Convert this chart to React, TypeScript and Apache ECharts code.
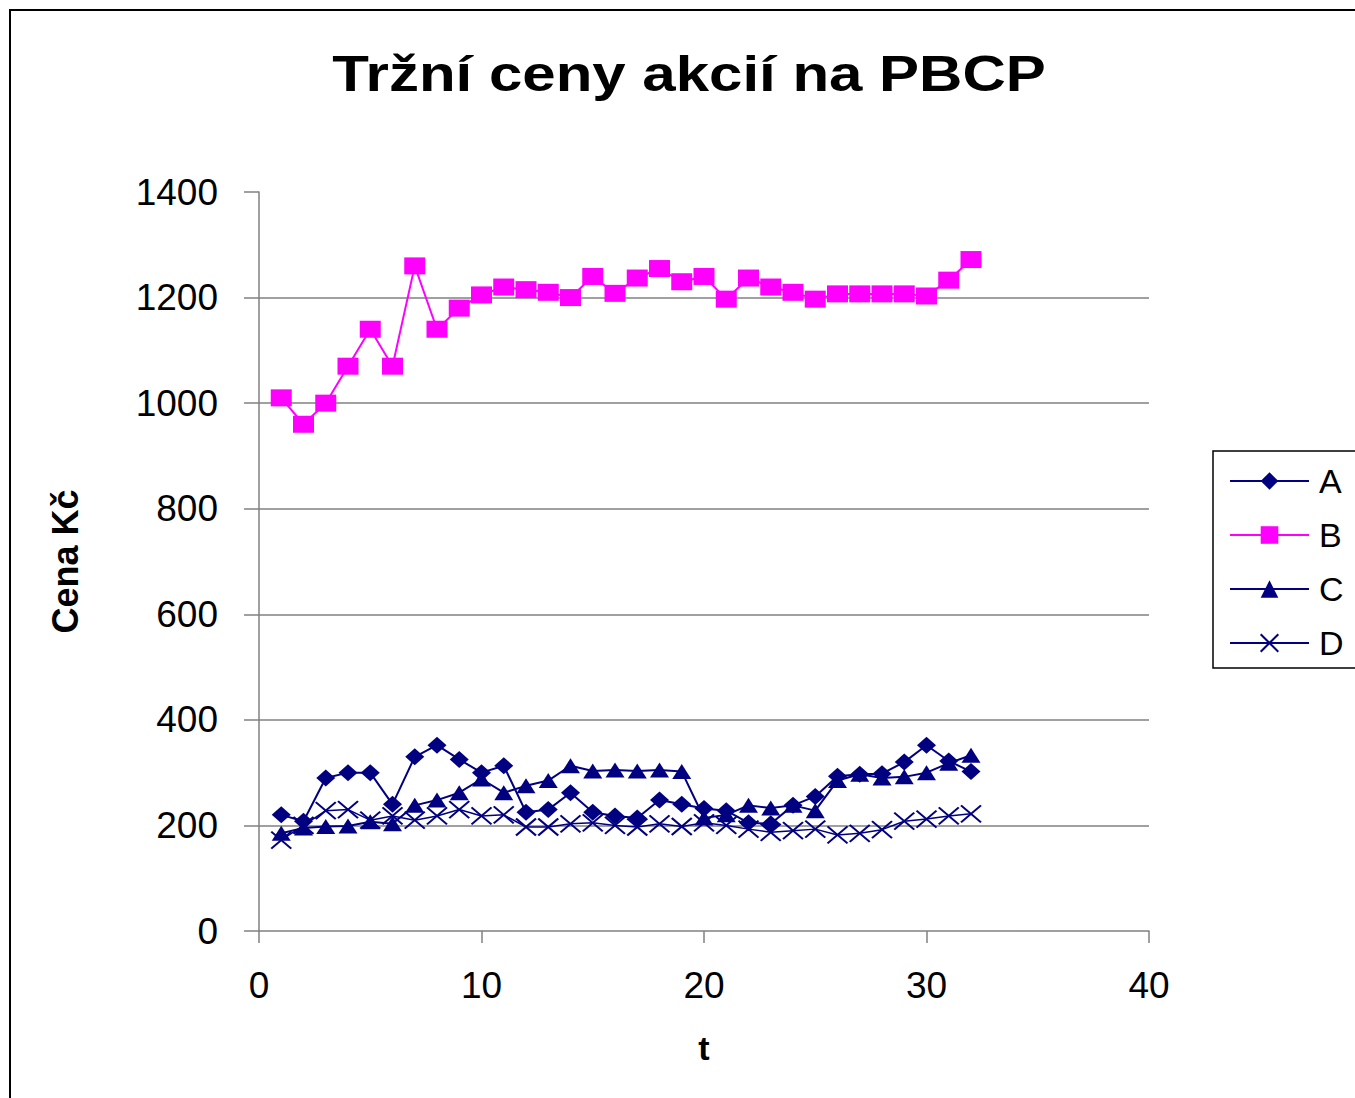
import React, { useEffect, useRef } from "react";
import * as echarts from "echarts";

const TITLE = "Tržní ceny akcií na PBCP";
const Y_NAME = "Cena Kč";
const X_NAME = "t";
const SERIES_NAMES = ["A", "B", "C", "D"];

const T = [1, 2, 3, 4, 5, 6, 7, 8, 9, 10, 11, 12, 13, 14, 15, 16, 17, 18, 19, 20, 21, 22, 23, 24, 25, 26, 27, 28, 29, 30, 31, 32];
const A = [220, 208, 290, 300, 300, 240, 330, 352, 325, 300, 313, 225, 230, 262, 225, 218, 214, 248, 240, 232, 228, 205, 203, 238, 255, 293, 297, 298, 320, 352, 322, 302];
const B = [1010, 960, 1000, 1070, 1140, 1070, 1260, 1140, 1180, 1205, 1220, 1215, 1210, 1200, 1240, 1208, 1237, 1255, 1230, 1240, 1197, 1237, 1220, 1210, 1197, 1207, 1207, 1207, 1207, 1203, 1233, 1272];
const C = [185, 195, 198, 199, 207, 203, 238, 248, 262, 288, 262, 275, 285, 313, 303, 305, 303, 305, 302, 214, 220, 238, 233, 238, 228, 285, 297, 290, 292, 300, 318, 333];
const D = [172, 200, 228, 230, 210, 218, 210, 218, 230, 218, 220, 197, 197, 203, 205, 200, 197, 203, 198, 205, 200, 193, 187, 190, 193, 182, 185, 192, 208, 212, 218, 222];

const NAVY = "#000080";
const MAGENTA = "#FF00FF";
const FONT = "Liberation Sans, Arial, sans-serif";

const pairs = (ys: number[]) => T.map((t, i) => [t, ys[i]]);

export default function App() {
  const ref = useRef<HTMLDivElement>(null);
  useEffect(() => {
    if (!ref.current) return;
    const chart = echarts.init(ref.current, undefined, { renderer: "svg" });
    const axisLineStyle = { color: "#808080", width: 1.5 };
    chart.setOption({
      animation: false,
      backgroundColor: "#ffffff",
      graphic: [
        {
          type: "rect",
          shape: { x: 10, y: 10, width: 1400, height: 1200 },
          style: { fill: "none", stroke: "#000", lineWidth: 2 },
          silent: true,
          z: 0,
        },
        {
          type: "text",
          x: 689,
          y: 74,
          scaleX: 1.2,
          style: {
            text: TITLE,
            font: `bold 50px ${FONT}`,
            fill: "#000",
            textAlign: "center",
            textVerticalAlign: "middle",
          },
        },
      ],
      grid: { left: 259, top: 192, right: 206, bottom: 167, containLabel: false },
      legend: {
        orient: "vertical",
        left: 1213,
        top: 451,
        data: SERIES_NAMES,
        backgroundColor: "#fff",
        borderColor: "#000",
        borderWidth: 1.5,
        borderRadius: 0,
        padding: [13, 60, 8, 16],
        itemWidth: 79,
        itemHeight: 22,
        itemGap: 20,
        textStyle: {
          fontFamily: FONT,
          fontSize: 34,
          lineHeight: 31,
          color: "#000",
          padding: [0, 0, 0, 5],
        },
      },
      xAxis: {
        type: "value",
        min: 0,
        max: 40,
        interval: 10,
        name: X_NAME,
        nameLocation: "middle",
        nameGap: 100,
        nameTextStyle: { fontFamily: FONT, fontSize: 34, fontWeight: "bold", color: "#000" },
        axisLine: { show: true, lineStyle: axisLineStyle },
        axisTick: { show: true, length: 12, lineStyle: axisLineStyle },
        axisLabel: { fontFamily: FONT, fontSize: 37, color: "#000", margin: 36, formatter: (v: number) => String(v) },
        splitLine: { show: false },
      },
      yAxis: {
        type: "value",
        min: 0,
        max: 1400,
        interval: 200,
        name: Y_NAME,
        nameLocation: "middle",
        nameGap: 176,
        nameTextStyle: { fontFamily: FONT, fontSize: 36, fontWeight: "bold", color: "#000" },
        axisLine: { show: true, lineStyle: axisLineStyle },
        axisTick: { show: true, length: 15, lineStyle: axisLineStyle },
        axisLabel: { fontFamily: FONT, fontSize: 37, color: "#000", margin: 41, formatter: (v: number) => String(v) },
        splitLine: {
          show: true,
          showMinLine: false,
          showMaxLine: false,
          lineStyle: { color: "#808080", width: 1.5 },
        },
      },
      series: [
        {
          name: "A",
          type: "line",
          data: pairs(A),
          symbol: "diamond",
          symbolSize: [19, 17],
          lineStyle: { color: NAVY, width: 2 },
          itemStyle: { color: NAVY, borderWidth: 0 },
          z: 3,
        },
        {
          name: "B",
          type: "line",
          data: pairs(B),
          symbol: "rect",
          symbolSize: [21, 17],
          lineStyle: { color: MAGENTA, width: 2 },
          itemStyle: { color: MAGENTA, borderWidth: 0 },
          z: 3,
        },
        {
          name: "C",
          type: "line",
          data: pairs(C),
          symbol: "triangle",
          symbolSize: [19, 15],
          lineStyle: { color: NAVY, width: 2 },
          itemStyle: { color: NAVY, borderWidth: 0 },
          z: 3,
        },
        {
          name: "D",
          type: "line",
          data: pairs(D),
          symbol: "path://M0,0L20,17M20,0L0,17",
          symbolSize: [20, 17],
          lineStyle: { color: NAVY, width: 1.5 },
          itemStyle: { color: "none", borderColor: NAVY, borderWidth: 2 },
          z: 3,
        },
      ],
    });
    return () => chart.dispose();
  }, []);
  return (
    <div
      ref={ref}
      style={{ position: "fixed", left: 0, top: 0, width: 1355, height: 1098, background: "#fff" }}
    />
  );
}
